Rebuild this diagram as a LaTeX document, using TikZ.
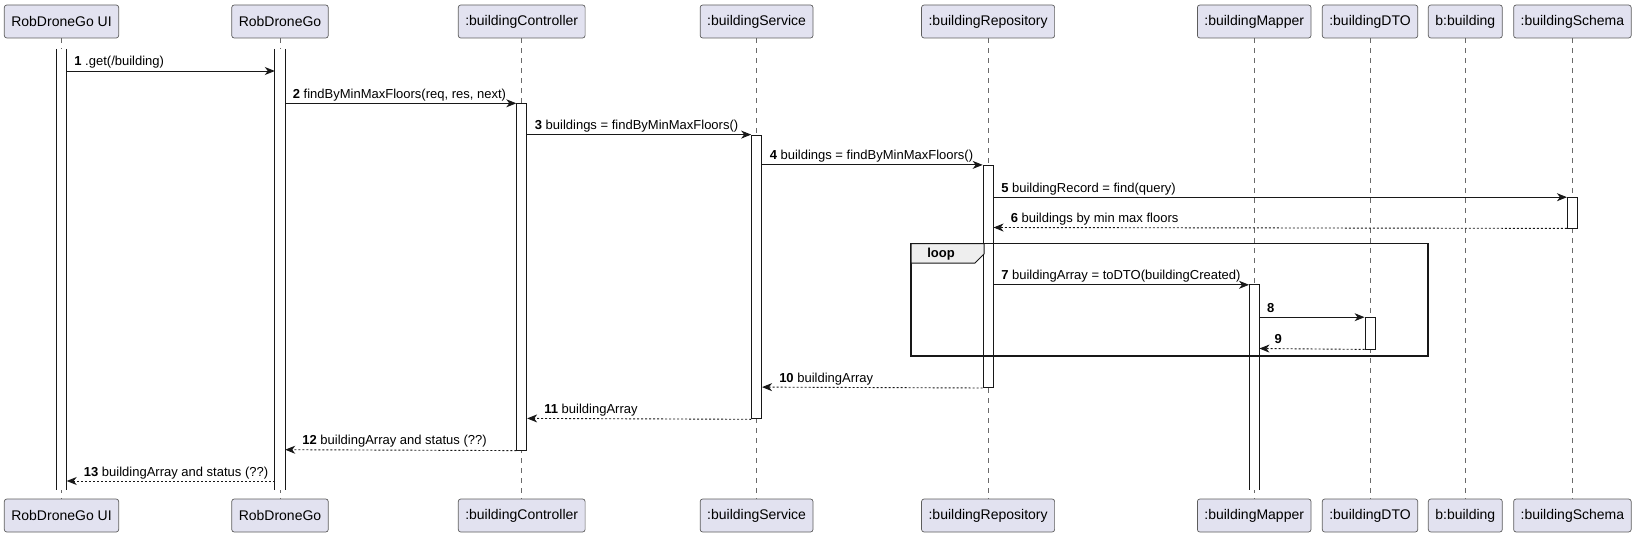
\documentclass[tikz,border=0pt]{standalone}
\usepackage{fontspec}
\setmainfont{Liberation Sans}
\usetikzlibrary{arrows.meta}
\definecolor{pfill}{HTML}{E2E2F0}
\definecolor{pline}{HTML}{181818}
\definecolor{tabfill}{HTML}{EEEEEE}
\tikzset{
  part/.style={draw=pline!70, fill=pfill, rounded corners=2.5pt, minimum height=33pt,
    inner xsep=7pt, inner ysep=0pt, line width=0.7pt, font=\fontsize{14}{16}\selectfont},
  life/.style={draw=pline!65, dash pattern=on 5pt off 5pt, line width=0.7pt},
  actbox/.style={draw=pline, fill=white, line width=0.9pt, minimum width=10pt, inner sep=0pt, anchor=north},
  actopen/.style={fill=white, minimum width=10pt, inner sep=0pt, anchor=north},
  actside/.style={draw=pline, line width=0.9pt},
  msg/.style={draw=pline, line width=0.9pt, -{Stealth[length=10pt,width=8pt,inset=3pt]}},
  ret/.style={msg, dash pattern=on 2pt off 2pt},
  lbl/.style={font=\fontsize{13}{15}\selectfont, inner sep=0pt, anchor=base west},
  framebox/.style={draw=pline, line width=1.5pt},
  tabbox/.style={draw=pline, fill=tabfill, line width=1pt},
}
\begin{document}
\begin{tikzpicture}[x=1pt,y=-1pt]
\useasboundingbox (0,0) rectangle (1636,535);
% participants (top / bottom)
\node[part] (uiT)   at (61.5,21.5)   {RobDroneGo UI};
\node[part] (rdgT)  at (280,21.5)    {RobDroneGo};
\node[part] (ctlT)  at (521.7,21.5)  {:buildingController};
\node[part] (svcT)  at (756.6,21.5)  {:buildingService};
\node[part] (repT)  at (988.1,21.5)  {:buildingRepository};
\node[part] (mapT)  at (1254.2,21.5) {:buildingMapper};
\node[part] (dtoT)  at (1370,21.5)   {:buildingDTO};
\node[part] (bldT)  at (1465.3,21.5) {b:building};
\node[part] (schT)  at (1572.4,21.5) {:buildingSchema};
\node[part] (uiB)   at (61.5,515.5)   {RobDroneGo UI};
\node[part] (rdgB)  at (280,515.5)    {RobDroneGo};
\node[part] (ctlB)  at (521.7,515.5)  {:buildingController};
\node[part] (svcB)  at (756.6,515.5)  {:buildingService};
\node[part] (repB)  at (988.1,515.5)  {:buildingRepository};
\node[part] (mapB)  at (1254.2,515.5) {:buildingMapper};
\node[part] (dtoB)  at (1370,515.5)   {:buildingDTO};
\node[part] (bldB)  at (1465.3,515.5) {b:building};
\node[part] (schB)  at (1572.4,515.5) {:buildingSchema};
% lifelines
\foreach \p in {ui,rdg,ctl,svc,rep,map,dto,bld,sch}
  \draw[life] (\p T) -- (\p B);
% message levels
\coordinate (y1) at (0,71);
\coordinate (y2) at (0,103.3);
\coordinate (y3) at (0,134.6);
\coordinate (y4) at (0,164.9);
\coordinate (y5) at (0,197.2);
\coordinate (y6) at (0,227.5);
\coordinate (y7) at (0,284.8);
\coordinate (y8) at (0,317.2);
\coordinate (y9) at (0,348.5);
\coordinate (y10) at (0,387.1);
\coordinate (y11) at (0,418.4);
\coordinate (y12) at (0,449.7);
\coordinate (y13) at (0,481);
% activation bars
\node[actopen, minimum height=440.4pt] (uiA)  at (61.5,49) {};
\draw[actside] (uiA.north west) -- (uiA.south west) (uiA.north east) -- (uiA.south east);
\node[actopen, minimum height=440.4pt] (rdgA) at (280,49) {};
\draw[actside] (rdgA.north west) -- (rdgA.south west) (rdgA.north east) -- (rdgA.south east);
\node[actbox, minimum height=346.4pt] (ctlA) at (521.7,103.3) {};
\node[actbox, minimum height=283.8pt] (svcA) at (756.6,134.6) {};
\node[actbox, minimum height=222.2pt] (repA) at (988.1,164.9) {};
\node[actbox, minimum height=30.3pt]  (schA) at (1572.4,197.2) {};
\node[actopen, minimum height=204.6pt] (mapA) at (1254.2,284.8) {};
\draw[actside] (mapA.south west) -- (mapA.north west) -- (mapA.north east) -- (mapA.south east);
\node[actbox, minimum height=31.3pt]  (dtoA) at (1370,317.2) {};
% loop frame
\coordinate (frTL) at (911,243.5);
\coordinate (frBR) at (1428,355.8);
\draw[framebox] (frTL) rectangle (frBR);
\draw[tabbox] (frTL) -- (984,243.5) -- (984,254) -- (975,263) -- (911,263) -- cycle;
\draw[framebox] (frTL) -- (1428,243.5);
\node[font=\fontsize{13}{15}\selectfont\bfseries, inner sep=0pt, anchor=base] (looplbl) at (941,257) {loop};
% messages
\draw[msg] (uiA.east |- y1) -- (rdgA.west |- y1);
\node[lbl] (l1) at ([xshift=7.5pt,yshift=5pt]uiA.east |- y1) {\textbf{1} .get(/building)};
\draw[msg] (rdgA.east |- y2) -- (ctlA.north west);
\node[lbl] (l2) at ([xshift=7.5pt,yshift=5pt]rdgA.east |- y2) {\textbf{2} findByMinMaxFloors(req, res, next)};
\draw[msg] (ctlA.east |- y3) -- (svcA.north west);
\node[lbl] (l3) at ([xshift=7.5pt,yshift=5pt]ctlA.east |- y3) {\textbf{3} buildings = findByMinMaxFloors()};
\draw[msg] (svcA.east |- y4) -- (repA.north west);
\node[lbl] (l4) at ([xshift=7.5pt,yshift=5pt]svcA.east |- y4) {\textbf{4} buildings = findByMinMaxFloors()};
\draw[msg] (repA.east |- y5) -- (schA.north west);
\node[lbl] (l5) at ([xshift=7.5pt,yshift=5pt]repA.east |- y5) {\textbf{5} buildingRecord = find(query)};
\draw[ret] (schA.south west) -- (repA.east |- y6);
\node[lbl] (l6) at ([xshift=17pt,yshift=5pt]repA.east |- y6) {\textbf{6} buildings by min max floors};
\draw[msg] (repA.east |- y7) -- (mapA.north west);
\node[lbl] (l7) at ([xshift=7.5pt,yshift=5pt]repA.east |- y7) {\textbf{7} buildingArray = toDTO(buildingCreated)};
\draw[msg] (mapA.east |- y8) -- (dtoA.north west);
\node[lbl] (l8) at ([xshift=7.5pt,yshift=5pt]mapA.east |- y8) {\textbf{8}};
\draw[ret] (dtoA.south west) -- (mapA.east |- y9);
\node[lbl] (l9) at ([xshift=15pt,yshift=5pt]mapA.east |- y9) {\textbf{9}};
\draw[ret] (repA.south west) -- (svcA.east |- y10);
\node[lbl] (l10) at ([xshift=17pt,yshift=5pt]svcA.east |- y10) {\textbf{10} buildingArray};
\draw[ret] (svcA.south west) -- (ctlA.east |- y11);
\node[lbl] (l11) at ([xshift=17pt,yshift=5pt]ctlA.east |- y11) {\textbf{11} buildingArray};
\draw[ret] (ctlA.south west) -- (rdgA.east |- y12);
\node[lbl] (l12) at ([xshift=17pt,yshift=5pt]rdgA.east |- y12) {\textbf{12} buildingArray and status (??)};
\draw[ret] (rdgA.west |- y13) -- (uiA.east |- y13);
\node[lbl] (l13) at ([xshift=17pt,yshift=5pt]uiA.east |- y13) {\textbf{13} buildingArray and status (??)};
\end{tikzpicture}
\end{document}
